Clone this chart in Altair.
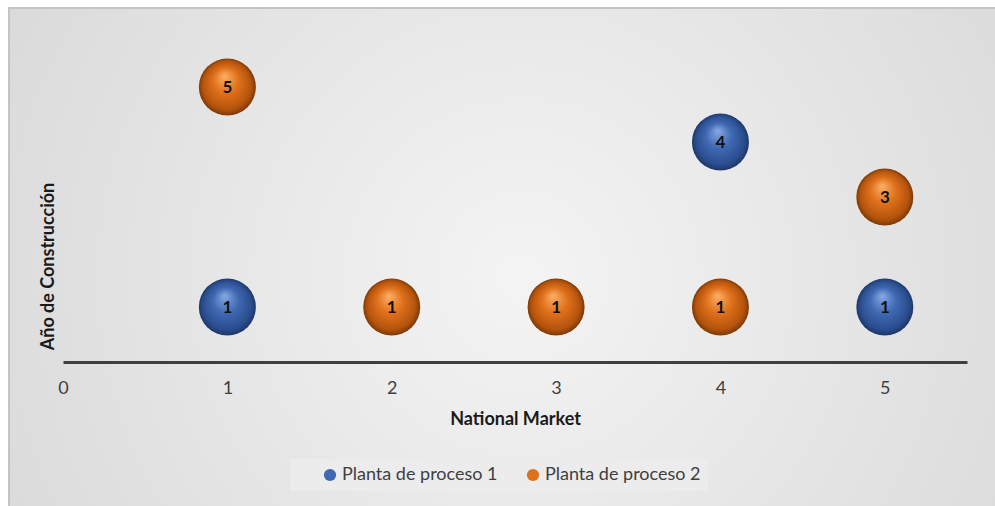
import altair as alt
import pandas as pd

# ---- data ----
series_names = ["Planta de proceso 1", "Planta de proceso 2"]
p1_x = [1, 4, 5]
p1_y = [1, 4, 1]
p2_x = [1, 2, 3, 4, 5]
p2_y = [5, 1, 1, 1, 3]
x_ticks = [0, 1, 2, 3, 4, 5]
x_title = "National Market"
y_title = "Año de Construcción"

rows = []
for xv, yv in zip(p1_x, p1_y):
    rows.append({"x": xv, "y": yv, "series": series_names[0]})
for xv, yv in zip(p2_x, p2_y):
    rows.append({"x": xv, "y": yv, "series": series_names[1]})
df = pd.DataFrame(rows)

W, H = 904, 330
PAD = {"left": 63, "top": 32, "right": 28, "bottom": 144}
FONT = "Lato"
BUBBLE = 3250

bg_grad = {
    "gradient": "radial", "x1": 0.5, "y1": 0.5, "r1": 0,
    "x2": 0.5, "y2": 0.5, "r2": 0.72,
    "stops": [{"offset": 0, "color": "#f4f4f4"}, {"offset": 1, "color": "#d3d3d3"}],
}
blue_grad = {
    "gradient": "radial", "x1": 0.45, "y1": 0.3, "r1": 0,
    "x2": 0.5, "y2": 0.5, "r2": 0.5,
    "stops": [
        {"offset": 0, "color": "#86aae4"},
        {"offset": 0.45, "color": "#4069b3"},
        {"offset": 0.85, "color": "#2a4d8e"},
        {"offset": 1, "color": "#1e3768"},
    ],
}
orange_grad = {
    "gradient": "radial", "x1": 0.45, "y1": 0.3, "r1": 0,
    "x2": 0.5, "y2": 0.5, "r2": 0.5,
    "stops": [
        {"offset": 0, "color": "#fcb066"},
        {"offset": 0.45, "color": "#e0711c"},
        {"offset": 0.85, "color": "#b4530c"},
        {"offset": 1, "color": "#7d3906"},
    ],
}

x_scale = alt.Scale(domain=[0, 5.5], nice=False, zero=True)
y_scale = alt.Scale(domain=[0, 6], nice=False)

x_axis = alt.Axis(
    values=x_ticks, grid=False, ticks=False, domainColor="#3f3f3f", domainWidth=3,
    labelFont=FONT, labelFontSize=18, labelColor="#404040", labelPadding=17,
    labelFlush=False, title=x_title, titleFont=FONT, titleFontSize=18,
    titleFontWeight="bold", titleColor="#1a1a1a", titlePadding=13, zindex=1,
)
y_axis = alt.Axis(
    grid=False, ticks=False, domain=False, labels=False,
    title=y_title, titleFont=FONT, titleFontSize=18, titleFontWeight="bold",
    titleColor="#1a1a1a", titleAngle=-90, titleAlign="center",
    titleBaseline="alphabetic", titleX=-10, titleY=234, zindex=1,
)

background = alt.Chart(alt.Data(values=[{"k": 0}])).mark_rect(
    fill=bg_grad, stroke="#c4c4c4", strokeWidth=2
).encode(
    x=alt.value(-PAD["left"] + 9), x2=alt.value(W + PAD["right"] + 40),
    y=alt.value(-PAD["top"] + 8), y2=alt.value(H + PAD["bottom"] + 40),
)

base = alt.Chart(df).encode(
    x=alt.X("x:Q", scale=x_scale, axis=x_axis),
    y=alt.Y("y:Q", scale=y_scale, axis=y_axis),
)

legend_layer = base.mark_circle(size=BUBBLE - 200, opacity=1).encode(
    color=alt.Color(
        "series:N",
        scale=alt.Scale(domain=series_names, range=["#3f69b3", "#e0711c"]),
        legend=alt.Legend(
            title=None, orient="none", direction="horizontal",
            legendX=227, legendY=427, symbolType="circle", symbolSize=150,
            symbolOpacity=1, symbolStrokeWidth=0, symbolOffset=24,
            labelFont=FONT, labelFontSize=18, labelColor="#404040", labelOffset=3,
            columnPadding=2, padding=7, fillColor="#ececec",
        ),
    )
)

blue_layer = base.transform_filter(
    alt.datum.series == series_names[0]
).mark_circle(size=BUBBLE, opacity=1, fill=blue_grad)

orange_layer = base.transform_filter(
    alt.datum.series == series_names[1]
).mark_circle(size=BUBBLE, opacity=1, fill=orange_grad)

labels = base.mark_text(
    font=FONT, fontSize=17, fontWeight="bold", color="#111111", dy=1
).encode(text="y:Q")

chart = alt.layer(background, legend_layer, blue_layer, orange_layer, labels).properties(
    width=W, height=H,
    autosize=alt.AutoSizeParams(type="none"),
    padding=PAD,
    background="white",
).configure_view(strokeWidth=0)

chart.save("out.html", embed_options={"renderer": "svg", "actions": False})
